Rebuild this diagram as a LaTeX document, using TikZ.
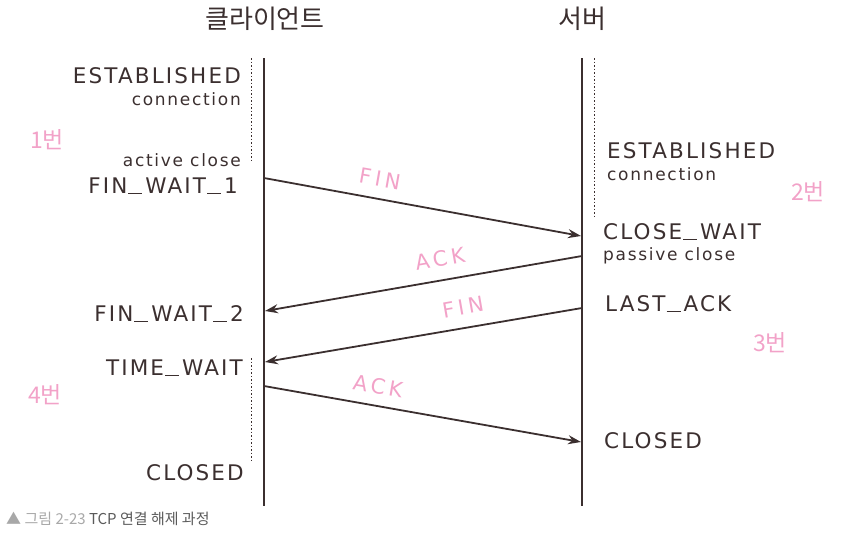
\documentclass[tikz,border=0pt]{standalone}
\usepackage{fontspec}
\setmainfont{DejaVu Sans}
\newfontfamily\kr{Noto Sans CJK KR}
\newfontfamily\spaced{DejaVu Sans}[LetterSpace=10]
\newfontfamily\wide{DejaVu Sans}[LetterSpace=18]
\newcommand\usc{\kern1pt\rule[-0.5pt]{14pt}{1.4pt}\kern3pt}
\usetikzlibrary{arrows.meta}
\definecolor{ink}{HTML}{3B2F2F}
\definecolor{pinkish}{HTML}{F2A2C8}
\definecolor{capgray}{HTML}{A8A8A8}
\definecolor{capdark}{HTML}{5A5A5A}
\begin{document}
\begin{tikzpicture}[x=1pt,y=-1pt,
  lifeline/.style={draw=ink,line width=2.8pt},
  dots/.style={draw=ink,line width=1pt,dash pattern=on 1.5pt off 2pt},
  msg/.style={draw=ink,line width=1.8pt,-{Stealth[length=13pt,width=9pt]}},
  state/.style={text=ink,font=\spaced\fontsize{21.5}{22}\selectfont,inner sep=0pt},
  sub/.style={text=ink,font=\spaced\fontsize{17}{17}\selectfont,inner sep=0pt},
  title/.style={text=ink,font=\kr\fontsize{26}{26}\selectfont,inner sep=0pt},
  msglabel/.style={text=pinkish,font=\wide\fontsize{21}{21}\selectfont,inner sep=0pt},
  num/.style={text=pinkish,font=\kr\fontsize{23}{23}\selectfont,inner sep=0pt}]
\useasboundingbox (0,0) rectangle (848,544);
% titles
\node[title] (tc) at (265,19) {클라이언트};
\node[title] (ts) at (582,19) {서버};
% lifelines
\coordinate (c0) at (264,58); \coordinate (c1) at (264,506);
\coordinate (s0) at (582,58); \coordinate (s1) at (582,506);
\draw[lifeline] (c0) -- (c1);
\draw[lifeline] (s0) -- (s1);
% dotted markers
\coordinate (cd0) at (251,58); \coordinate (cd1) at (251,160);
\coordinate (cd2) at (251,358); \coordinate (cd3) at (251,460);
\coordinate (sd0) at (594,58); \coordinate (sd1) at (594,218);
\draw[dots] (cd0) -- (cd1);
\draw[dots] (cd2) -- (cd3);
\draw[dots] (sd0) -- (sd1);
% client states
\node[state,anchor=east] (cest) at (241,76) {ESTABLISHED};
\node[sub,anchor=east] (ccon) at (241,99) {connection};
\node[sub,anchor=east] (cact) at (241,160) {active close};
\node[state,anchor=east] (fw1) at (238,186) {FIN\usc WAIT\usc 1};
\node[state,anchor=east] (fw2) at (244,314) {FIN\usc WAIT\usc 2};
\node[state,anchor=east] (tw) at (243,368) {TIME\usc WAIT};
\node[state,anchor=east] (ccl) at (244,473) {CLOSED};
% server states
\node[state,anchor=west] (sest) at (607,151) {ESTABLISHED};
\node[sub,anchor=west] (scon) at (607,174) {connection};
\node[state,anchor=west] (cw) at (603,232) {CLOSE\usc WAIT};
\node[sub,anchor=west] (pas) at (603,256) {passive close};
\node[state,anchor=west] (la) at (605,304) {LAST\usc ACK};
\node[state,anchor=west] (scl) at (604,441) {CLOSED};
% messages
\coordinate (m1a) at (264,178); \coordinate (m1b) at (581,236);
\coordinate (m2a) at (582,256); \coordinate (m2b) at (265,311);
\coordinate (m3a) at (582,308); \coordinate (m3b) at (265,362);
\coordinate (m4a) at (264,386); \coordinate (m4b) at (581,442);
\draw[msg] (m1a) -- (m1b);
\draw[msg] (m2a) -- (m2b);
\draw[msg] (m3a) -- (m3b);
\draw[msg] (m4a) -- (m4b);
\node[msglabel,rotate=-10] (l1) at (380,179) {FIN};
\node[msglabel,rotate=10] (l2) at (440,259) {ACK};
\node[msglabel,rotate=10] (l3) at (463,307) {FIN};
\node[msglabel,rotate=-10] (l4) at (378,386) {ACK};
% step numbers
\node[num] (n1) at (47,140) {1번};
\node[num] (n2) at (808,192) {2번};
\node[num] (n3) at (770,343) {3번};
\node[num] (n4) at (45,395) {4번};
% caption
\node[anchor=west,inner sep=0pt,font=\kr\fontsize{15}{15}\selectfont] (cap) at (6,519)
  {\textcolor{capgray}{▲ 그림 2-23} \textcolor{capdark}{TCP 연결 해제 과정}};
\end{tikzpicture}
\end{document}
